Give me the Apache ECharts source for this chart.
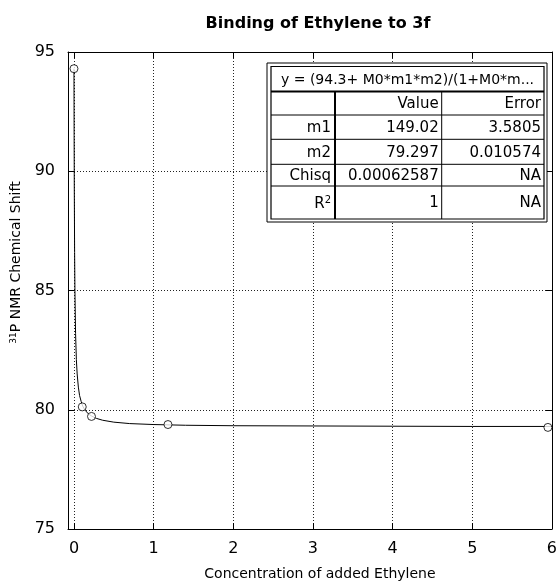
<!DOCTYPE html>
<html>
<head>
<meta charset="utf-8">
<script src="https://cdn.jsdelivr.net/npm/echarts@6/dist/echarts.min.js"></script>
<style>
  html, body { margin: 0; padding: 0; background: #fff; }
  #chart { width: 560px; height: 586px; }
</style>
</head>
<body>
<div id="chart"></div>
<script>
// Measured points: concentration of ethylene vs. 31P shift
const concentration = [0, 0.104, 0.22, 1.18, 5.95];
const shift = [94.3, 80.12, 79.72, 79.38, 79.26];

// Fitted binding curve, sampled along its trace
const fitX = [0, 0.002, 0.004, 0.008, 0.012, 0.02, 0.03, 0.04, 0.055, 0.07, 0.09, 0.11,
              0.14, 0.18, 0.22, 0.28, 0.36, 0.5, 0.7, 1.0, 1.4, 2.0, 3.0, 4.0, 5.0, 6.0];
const fitY = [94.3, 91.5, 89.3, 86.6, 85.0, 83.2, 82.1, 81.5, 80.95, 80.6, 80.35, 80.15,
              79.98, 79.83, 79.74, 79.64, 79.56, 79.48, 79.42, 79.38, 79.35, 79.33, 79.32, 79.31, 79.30, 79.30];

// Axis ticks
const xTicks = [0, 1, 2, 3, 4, 5, 6];
const yTicks = [75, 80, 85, 90, 95];

// Fit result table
const fitFormula = 'y = (94.3+ M0*m1*m2)/(1+M0*m...';
const tableHeader = ['', 'Value', 'Error'];
const paramNames = ['m1', 'm2', 'Chisq', 'R2'];
const paramValues = ['149.02', '79.297', '0.00062587', '1'];
const paramErrors = ['3.5805', '0.010574', 'NA', 'NA'];

const FONT = 'DejaVu Sans';
const chart = echarts.init(document.getElementById('chart'), null, { renderer: 'canvas' });

// table geometry (px)
const tOuter = { x0: 267, y0: 63, x1: 547, y1: 222 };
const tInner = { x0: 271, y0: 66.5, x1: 544, y1: 219 };
const rowLines = [91.5, 115, 139.3, 164.3, 186];
const colLines = [335, 441.7];

function buildTable() {
  const els = [];
  els.push({ type: 'rect', z: 100, shape: { x: tOuter.x0, y: tOuter.y0, width: tOuter.x1 - tOuter.x0, height: tOuter.y1 - tOuter.y0 },
             style: { fill: '#fff', stroke: '#000', lineWidth: 1 } });
  els.push({ type: 'rect', z: 101, shape: { x: tInner.x0, y: tInner.y0, width: tInner.x1 - tInner.x0, height: tInner.y1 - tInner.y0 },
             style: { fill: 'none', stroke: '#000', lineWidth: 1.2 } });
  rowLines.forEach((y, i) => {
    els.push({ type: 'line', z: 101, shape: { x1: tInner.x0, y1: y, x2: tInner.x1, y2: y },
               style: { stroke: '#000', lineWidth: i === 0 ? 2 : 1 } });
  });
  colLines.forEach((x, i) => {
    els.push({ type: 'line', z: 101, shape: { x1: x, y1: rowLines[0], x2: x, y2: tInner.y1 },
               style: { stroke: '#000', lineWidth: i === 0 ? 2 : 1 } });
  });
  const txt = (text, x, y, align, size, extra) => ({
    type: 'text', z: 102, x: x, y: y,
    style: Object.assign({ text: text, fill: '#000', font: size + 'px "' + FONT + '"', align: align, verticalAlign: 'middle' }, extra || {})
  });
  els.push(txt(fitFormula, (tInner.x0 + tInner.x1) / 2, (tInner.y0 + rowLines[0]) / 2 + 1, 'center', 14));
  const rows = [tableHeader].concat(paramNames.map((n, i) => [n, paramValues[i], paramErrors[i]]));
  const bounds = rowLines.concat([tInner.y1]);
  const rights = [colLines[0] - 4, colLines[1] - 3, tInner.x1 - 3];
  rows.forEach((r, ri) => {
    const yc = (bounds[ri] + bounds[ri + 1]) / 2 + 1;
    r.forEach((cell, ci) => {
      if (!cell) return;
      if (cell === 'R2') {
        els.push(txt('{b|R}{s|2}', rights[ci], yc + 1, 'right', 15, {
          rich: { b: { fontSize: 15, fontFamily: FONT, fill: '#000' },
                  s: { fontSize: 10, fontFamily: FONT, fill: '#000', verticalAlign: 'top', padding: [0, 0, 8, 0] } }
        }));
      } else {
        els.push(txt(cell, rights[ci], yc, 'right', 15));
      }
    });
  });
  return els;
}

const dotted = { show: true, lineStyle: { color: '#222', width: 1, type: [1, 2] } };

const option = {
  backgroundColor: '#fff',
  animation: false,
  title: {
    text: 'Binding of Ethylene to 3f',
    left: 313, top: 11, textAlign: 'center',
    textStyle: { fontFamily: FONT, fontWeight: 'bold', fontSize: 16, color: '#000' }
  },
  grid: { left: 68, top: 52, width: 486, height: 480, containLabel: false },
  xAxis: [
    {
      type: 'value', position: 'bottom', min: -0.075, max: 6,
      name: 'Concentration of added Ethylene', nameLocation: 'middle', nameGap: 38,
      nameTextStyle: { fontFamily: FONT, fontSize: 14, color: '#000', padding: [0, 0, 0, 20] },
      axisLine: { show: true, onZero: false, lineStyle: { color: '#000', width: 1 } },
      axisTick: { show: true, inside: true, length: 6, customValues: xTicks, lineStyle: { color: '#000' } },
      axisLabel: { customValues: xTicks, margin: 12, fontFamily: FONT, fontSize: 16, color: '#000' },
      splitLine: dotted
    },
    {
      type: 'value', position: 'top', min: -0.075, max: 6,
      axisLine: { show: true, onZero: false, lineStyle: { color: '#000', width: 1 } },
      axisTick: { show: true, inside: true, length: 6, customValues: xTicks, lineStyle: { color: '#000' } },
      axisLabel: { show: false },
      splitLine: { show: false }
    }
  ],
  yAxis: [
    {
      type: 'value', position: 'left', min: 75, max: 95, interval: 5,
      name: '{s|31}P NMR Chemical Shift', nameLocation: 'middle', nameGap: 34, nameRotate: 90,
      nameTextStyle: {
        fontFamily: FONT, fontSize: 14, color: '#000', padding: [0, 0, 0, 56],
        rich: { s: { fontFamily: FONT, fontSize: 9, color: '#000', verticalAlign: 'top', padding: [0, 0, 6, 0] } }
      },
      axisLine: { show: true, onZero: false, lineStyle: { color: '#000', width: 1 } },
      axisTick: { show: true, inside: true, length: 6, lineStyle: { color: '#000' } },
      axisLabel: { margin: 13, fontFamily: FONT, fontSize: 16, color: '#000' },
      splitLine: dotted
    },
    {
      type: 'value', position: 'right', min: 75, max: 95, interval: 5,
      axisLine: { show: true, onZero: false, lineStyle: { color: '#000', width: 1 } },
      axisTick: { show: true, inside: true, length: 6, lineStyle: { color: '#000' } },
      axisLabel: { show: false },
      splitLine: { show: false }
    }
  ],
  series: [
    {
      name: 'fit', type: 'line', xAxisIndex: 0, yAxisIndex: 0,
      data: fitX.map((x, i) => [x, fitY[i]]),
      showSymbol: false, smooth: false, z: 2,
      lineStyle: { color: '#000', width: 1 }
    },
    {
      name: 'data', type: 'scatter', xAxisIndex: 0, yAxisIndex: 0,
      data: concentration.map((x, i) => [x, shift[i]]),
      symbol: 'circle', symbolSize: 8, z: 3,
      itemStyle: { color: '#fff', borderColor: '#000', borderWidth: 1 }
    }
  ],
  graphic: [{ type: 'group', children: buildTable() }]
};

chart.setOption(option);
</script>
</body>
</html>
